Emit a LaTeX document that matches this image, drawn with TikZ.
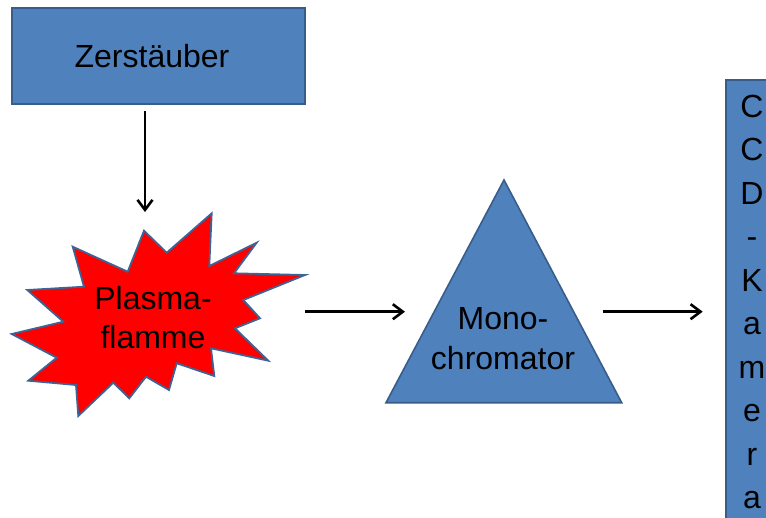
\documentclass[tikz,border=0pt]{standalone}
\usepackage{fontspec}
\setmainfont{Liberation Sans}
\usetikzlibrary{arrows.meta}
\definecolor{boxblue}{HTML}{4F81BD}
\definecolor{boxedge}{HTML}{385D8A}
\definecolor{staredge}{HTML}{3C6496}
\begin{document}
\begin{tikzpicture}[x=1pt,y=-1pt,
  bluebox/.style={draw=boxedge,fill=boxblue,line width=1.6pt,inner sep=0pt},
  lbl/.style={font=\fontsize{32}{40}\selectfont,inner sep=0pt,align=center,text=black},
  arr/.style={line width=2.8pt,-{Straight Barb[length=10pt,width=15pt,line width=2.6pt]}}]
\useasboundingbox (0,0) rectangle (766,517);
\clip (0,0) rectangle (766,517);
% Zerstaeuber
\node[bluebox,minimum width=293pt,minimum height=96pt] (zer) at (158.5,56) {};
\node[lbl] (zertext) at (152,56.3) {Zerstäuber};
% star
\draw[fill=red,draw=staredge,line width=1.8pt]
 (144,230.7) -- (166.7,252.7) -- (211.7,213.3) -- (209.3,266) -- (256.7,242.7)
 -- (234,273.3) -- (305,275) -- (243.3,300) -- (260,318.3) -- (235,328.3)
 -- (268.3,360.7) -- (211,348.3) -- (214.3,376) -- (176.7,363.3) -- (169,390)
 -- (146,376.7) -- (129.3,398.3) -- (113.3,382.7) -- (78.3,416) -- (76,385)
 -- (28.3,380.7) -- (56.7,357.7) -- (11.7,334) -- (63.3,321.7) -- (27.3,290)
 -- (84,286.7) -- (72.7,246.7) -- (127.7,271.7) -- cycle;
\node[lbl,font=\fontsize{32}{39}\selectfont] (plasma) at (153,317.8) {Plasma-\\flamme};
% triangle
\draw[draw=boxedge,fill=boxblue,line width=1.6pt] (504,180) -- (621.7,402.7) -- (386,402.7) -- cycle;
\node[lbl] (mono) at (503,338.3) {Mono-\\chromator};
% CCD camera
\node[bluebox,minimum width=52pt,minimum height=450pt] (ccd) at (752,305) {};
\node[lbl,font=\fontsize{32}{43.5}\selectfont] (ccdtext) at (752,302.2) {C\\C\\D\\-\\K\\a\\m\\e\\r\\a};
% connectors
\coordinate (a1s) at (145,111);
\coordinate (a1e) at (145,212);
\coordinate (a2s) at (305,311.7);
\coordinate (a2e) at (405,311.7);
\coordinate (a3s) at (602.7,311.7);
\coordinate (a3e) at (702.7,311.7);
\draw[arr] (a1s) -- (a1e);
\draw[arr] (a2s) -- (a2e);
\draw[arr] (a3s) -- (a3e);
\end{tikzpicture}
\end{document}
